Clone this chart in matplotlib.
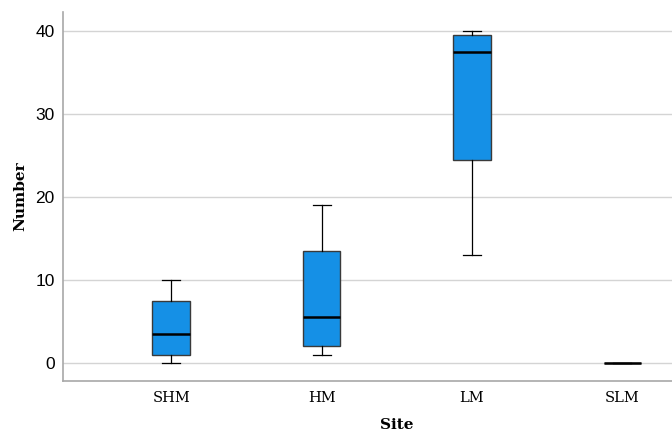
import matplotlib
matplotlib.use("Agg")
import matplotlib.pyplot as plt

sites = ["SHM", "HM", "LM", "SLM"]
whisker_low = [0, 1, 13, 0]
q1 = [1, 2, 24.5, 0]
medians = [3.5, 5.5, 37.5, 0]
q3 = [7.5, 13.5, 39.5, 0]
whisker_high = [10, 19, 40, 0]
yticks = [0, 10, 20, 30, 40]

stats = []
for s, lo, a, m, b, hi in zip(sites, whisker_low, q1, medians, q3, whisker_high):
    stats.append(dict(label=s, whislo=lo, q1=a, med=m, q3=b, whishi=hi, fliers=[]))

fig = plt.figure(figsize=(6.72, 4.33), dpi=100)
ax = fig.add_axes([63/672, 52/433, 1 - 63/672, (381-12)/433])

edge = "#3a3a3a"
ax.bxp(stats, positions=range(len(sites)), widths=0.25, patch_artist=True,
       showfliers=False,
       boxprops=dict(facecolor="#1590E6", edgecolor=edge, linewidth=1.0),
       medianprops=dict(color="black", linewidth=1.8),
       whiskerprops=dict(color="black", linewidth=0.9),
       capprops=dict(color="black", linewidth=0.9),
       capwidths=0.12, zorder=3)

ax.set_xlim(-0.72, 3.33)
ax.set_ylim(-2.17, 42.3)
ax.set_yticks(yticks)
ax.set_yticklabels([str(t) for t in yticks], fontsize=12.5, family="Liberation Sans")
ax.set_xticks(range(len(sites)))
ax.set_xticklabels(sites, fontsize=10.5, family="DejaVu Serif")
ax.tick_params(axis="both", length=0)
ax.tick_params(axis="y", pad=6)
ax.tick_params(axis="x", pad=7)
ax.yaxis.grid(True, color="#d4d4d4", linewidth=1.0, zorder=0)
ax.set_axisbelow(True)
for side in ["top", "right"]:
    ax.spines[side].set_visible(False)
for side in ["left", "bottom"]:
    ax.spines[side].set_color("#a8a8a8")
    ax.spines[side].set_linewidth(1.2)

ax.set_xlabel("Site", fontsize=11, fontweight="bold", family="DejaVu Serif")
ax.xaxis.set_label_coords((397 - 63) / 609, -(425 - 381) / 369, transform=ax.transAxes)
ax.xaxis.label.set_va("center")
ax.set_ylabel("Number", fontsize=11, fontweight="bold", family="DejaVu Serif", labelpad=6)

fig.savefig("out.png", dpi=100)
